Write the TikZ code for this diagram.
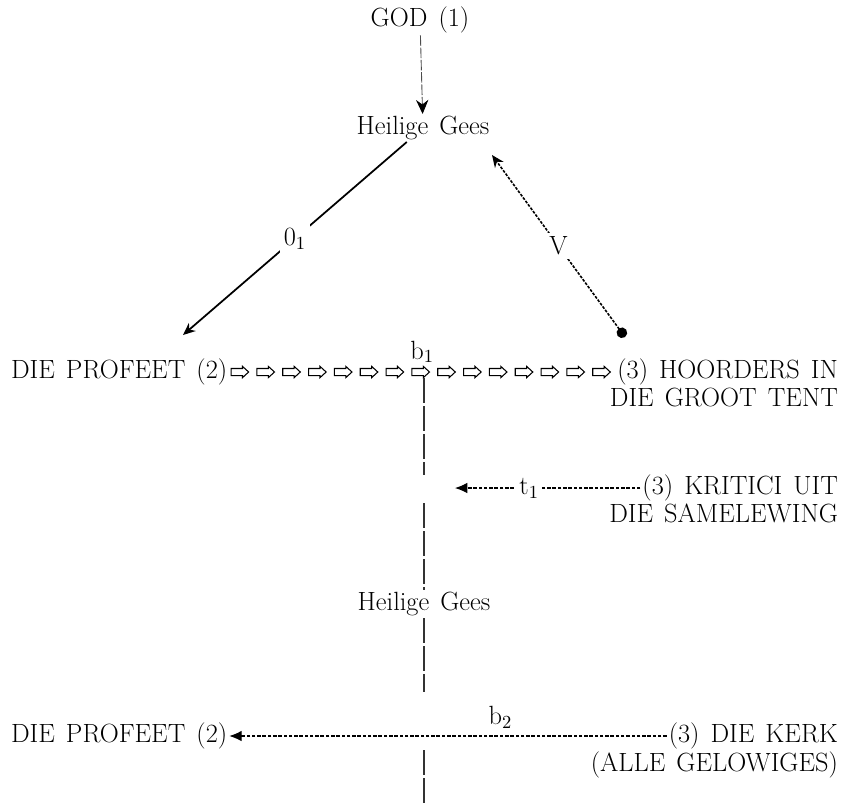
\documentclass[tikz,border=0pt]{standalone}
\usetikzlibrary{arrows.meta,decorations.markings}
\newcommand\diagfont{\fontsize{15}{16}\selectfont\spaceskip=0.42em plus 0.1em\relax}
\begin{document}
\begin{tikzpicture}[x=0.2mm, y=-0.2mm,
    every node/.style={font=\diagfont, inner sep=1pt},
    lbl/.style={fill=white, inner sep=2pt},
    faint/.style={black!70, line width=0.5pt, dash pattern=on 6pt off 1pt},
    dens/.style={line width=0.9pt, dash pattern=on 1.6pt off 0.8pt},
    thindash/.style={line width=0.6pt, dash pattern=on 2pt off 1pt},
    axis/.style={black!80, line width=0.6pt, dash pattern=on 14pt off 2pt},
    hollowrow/.style={decoration={markings,
        mark=between positions 6pt and -4pt step 14.7pt with {
          \draw[line width=0.6pt, fill=white] (-5pt,-2pt) -- (1.5pt,-2pt) -- (1.5pt,-3.2pt)
            -- (5pt,0pt) -- (1.5pt,3.2pt) -- (1.5pt,2pt) -- (-5pt,2pt) -- cycle;}},
      postaction={decorate}}]
  \useasboundingbox (0,0) rectangle (843,803);

  % nodes
  \node (god) at (420,20) {GOD (1)};
  \node (hg1) at (423,128) {Heilige Gees};
  \node (profeet1) [anchor=west] at (9,372) {DIE PROFEET (2)};
  \node (hoorders) [anchor=east, label={[anchor=north east, yshift=1pt]south east:DIE GROOT TENT}] at (840,372) {(3) HOORDERS IN};
  \node (kritici) [anchor=east, label={[anchor=north east, yshift=1pt]south east:DIE SAMELEWING}] at (840,488) {(3) KRITICI UIT};
  \node (hg2) at (424,604) {Heilige Gees};
  \node (profeet2) [anchor=west] at (9,736) {DIE PROFEET (2)};
  \node (kerk) [anchor=east, label={[anchor=north east, yshift=1pt]south east:(ALLE GELOWIGES)}] at (840,736) {(3) DIE KERK};

  \coordinate (o1tip) at (183,335);
  \coordinate (vdot) at (625,337);
  \coordinate (vtip) at (492,155);
  \coordinate (t1tip) at (455,488);
  \coordinate (axtop) at (424,378);
  \coordinate (axa) at (424,475);
  \coordinate (axb) at (424,503);
  \coordinate (axc) at (424,692);
  \coordinate (axd) at (424,750);
  \coordinate (axbot) at (424,803);

  % connectors
  \draw[faint, -{Stealth[length=8pt,width=7pt,black]}] (god) -- (hg1);
  \draw[line width=1pt, -{Stealth[length=7pt,width=6pt]}] (hg1) -- node[lbl] {0\textsubscript{1}} (o1tip);
  \draw[dens, {Circle[length=6pt]}-{Stealth[length=7pt,width=6pt]}] (vdot) -- node[lbl] {V} (vtip);
  \path[hollowrow] (profeet1) -- node[above=4pt] {b\textsubscript{1}} (hoorders);
  \draw[thindash, -{Latex[length=7pt,width=6pt]}] (kritici) -- node[pos=0.6, lbl] {t\textsubscript{1}} (t1tip);
  \draw[thindash, -{Latex[length=7pt,width=6pt]}] (kerk) -- node[pos=0.38, above=3pt] {b\textsubscript{2}} (profeet2);

  % axis
  \draw[axis] (axtop) -- (axa) (axb) -- (hg2) -- (axc) (axd) -- (axbot);
\end{tikzpicture}
\end{document}
